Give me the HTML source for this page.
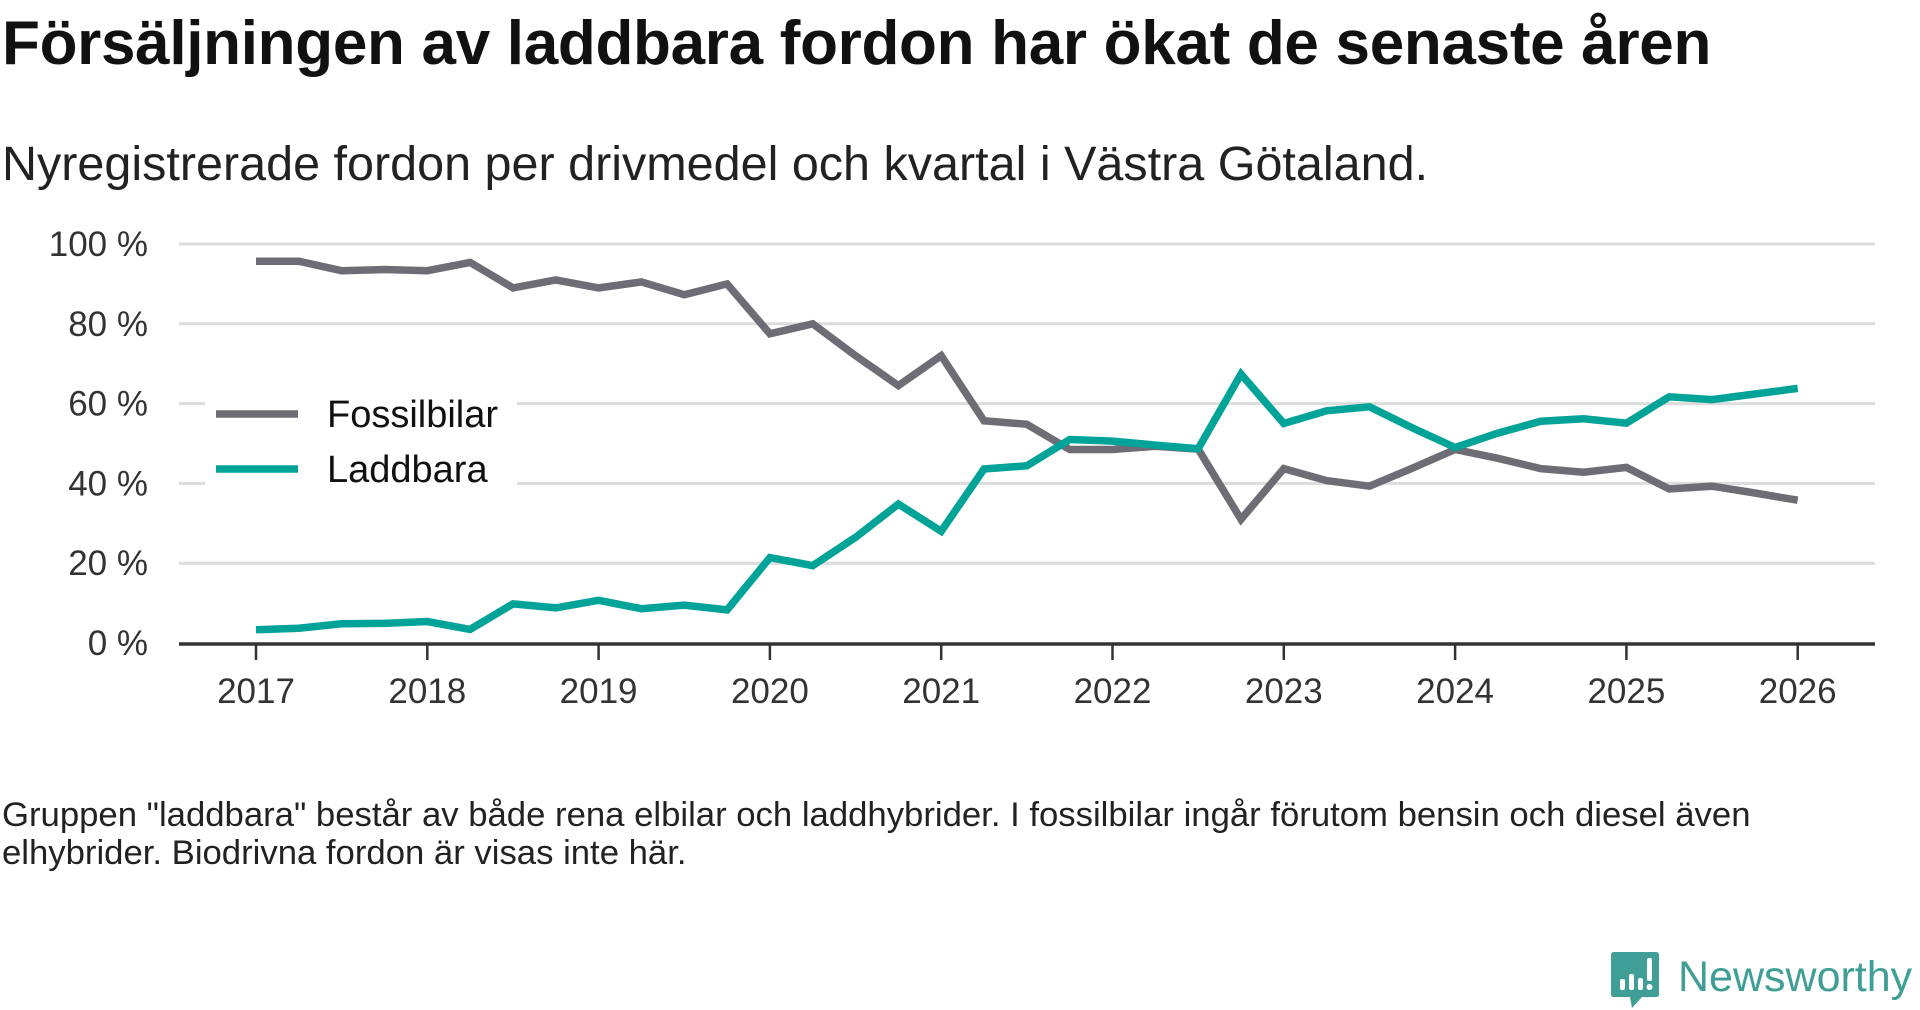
<!DOCTYPE html>
<html><head><meta charset="utf-8">
<style>
html,body{margin:0;padding:0;background:#fff;width:1920px;height:1010px;overflow:hidden;font-family:"Liberation Sans",sans-serif;}
#title{position:absolute;left:2px;top:8px;font-size:62px;font-weight:bold;color:#111;white-space:nowrap;letter-spacing:-0.3px}
#subtitle{position:absolute;left:2px;top:136px;font-size:48.5px;color:#222;white-space:nowrap}
#note{position:absolute;left:2px;top:796px;font-size:34.7px;line-height:38px;color:#222;width:1840px}
#logo{position:absolute;left:1610px;top:950px}
</style></head><body>
<div id="title">Försäljningen av laddbara fordon har ökat de senaste åren</div>
<div id="subtitle">Nyregistrerade fordon per drivmedel och kvartal i Västra Götaland.</div>
<svg id="chart" width="1920" height="760" style="position:absolute;left:0;top:0"></svg>
<div id="note">Gruppen "laddbara" består av både rena elbilar och laddhybrider. I fossilbilar ingår förutom bensin och diesel även elhybrider. Biodrivna fordon är visas inte här.</div>
<svg id="logo" width="310" height="60">
<path d="M4 2 H46 Q49 2 49 5 V44 Q49 47 46 47 H32 L22 58 L20 47 H4 Q1 47 1 44 V5 Q1 2 4 2Z" fill="#3f9e96"/>
<rect x="10" y="29" width="5" height="11" rx="2" fill="#fff"/>
<rect x="19" y="24" width="5" height="16" rx="2" fill="#fff"/>
<rect x="28" y="28" width="5" height="12" rx="2" fill="#fff"/>
<rect x="37" y="8" width="5" height="23" rx="2" fill="#fff"/>
<circle cx="39.5" cy="37" r="3" fill="#fff"/>
<text x="68" y="41" font-family="Liberation Sans, sans-serif" font-size="43" fill="#3f9e96">Newsworthy</text>
</svg>
<script>
const years=[2017,2018,2019,2020,2021,2022,2023,2024,2025,2026];
const yTicks=[0,20,40,60,80,100];
const yTickLabels=["0 %","20 %","40 %","60 %","80 %","100 %"];
const fossil=[95.7,95.7,93.3,93.6,93.3,95.4,89,91,89,90.5,87.3,90,77.5,80,72,64.5,72,55.7,54.8,48.5,48.5,49.3,48.6,31,43.7,40.7,39.3,43.8,48.5,46.3,43.7,42.8,44,38.6,39.3,37.6,35.8];
const laddbara=[3.3,3.7,4.8,4.9,5.4,3.4,9.8,8.8,10.7,8.6,9.5,8.3,21.4,19.4,26.5,34.8,28,43.6,44.4,51,50.6,49.6,48.7,67.4,55,58.2,59.2,53.9,49,52.6,55.6,56.2,55.1,61.7,61,62.4,63.8];
const NS="http://www.w3.org/2000/svg";
const svg=document.getElementById('chart');
const x=t=>256+(t-2017)*171.3;
const y=v=>643-v*3.99;
const L=179,R=1875;
function mk(tag,attrs,parent){const e=document.createElementNS(NS,tag);for(const k in attrs)e.setAttribute(k,attrs[k]);(parent||svg).appendChild(e);return e;}
yTicks.forEach((v,i)=>{
  if(v>0){const g=mk('line',{x1:L,x2:R,y1:y(v),y2:y(v),stroke:'#dcdcdc','stroke-width':3});
  
  }
  const t=mk('text',{x:148,y:y(v)+12,'text-anchor':'end','font-size':35,fill:'#333','font-family':'Liberation Sans, sans-serif'});
  t.textContent=yTickLabels[i];
  
  
});
years.forEach(yr=>{
  const tk=mk('line',{x1:x(yr),x2:x(yr),y1:643,y2:660,stroke:'#333','stroke-width':2.5});
  
  
  const t=mk('text',{x:x(yr),y:703,'text-anchor':'middle','font-size':35,fill:'#333','font-family':'Liberation Sans, sans-serif'});
  t.textContent=yr;
  
  
});
const ax=mk('line',{x1:L,x2:R,y1:644,y2:644,stroke:'#333','stroke-width':3.5});


function series(data,color,name){
  const pts=data.map((v,i)=>x(2017+i/4).toFixed(1)+','+y(v).toFixed(1)).join(' ');
  const p=mk('polyline',{points:pts,fill:'none',stroke:color,'stroke-width':7.5,'stroke-linejoin':'miter','stroke-miterlimit':3});
  
  
}
series(fossil,'#6e6d75','fossilbilar-line');
series(laddbara,'#00a398','laddbara-line');
const bg=mk('rect',{x:205,y:380,width:312,height:112,fill:'#fff'});


[['Fossilbilar','#6e6d75',414],['Laddbara','#00a398',469]].forEach(([n,c,yy])=>{
  const l=mk('line',{x1:216,x2:298,y1:yy,y2:yy,stroke:c,'stroke-width':7.5});
  
  
  const t=mk('text',{x:327,y:yy+13,'font-size':38,fill:'#111','font-family':'Liberation Sans, sans-serif'});
  t.textContent=n;
  
  
});
</script>
</body></html>
